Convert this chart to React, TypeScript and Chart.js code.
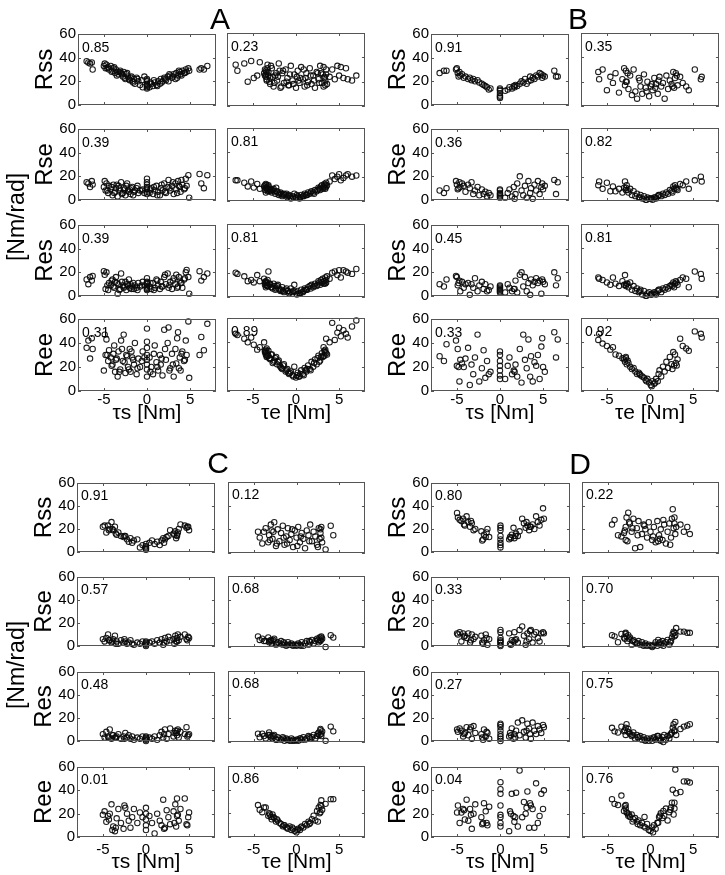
import React, { useEffect, useRef } from "react";
import { Chart, registerables } from "chart.js";
Chart.register(...registerables);

const FONT = '"Liberation Sans", Arial, Helvetica, sans-serif';

// ---------- labels ----------
const panelNames = ["A", "B", "C", "D"];
const rowNames = ["Rss", "Rse", "Res", "Ree"];
const xTitles = ["τs [Nm]", "τe [Nm]"];
const unitLabel = "[Nm/rad]";
const xTickValues = [-5, 0, 5];
const yTickValues = [0, 20, 40, 60];
const xMin = -8, xMax = 8, yMin = 0, yMax = 60;

// ---------- correlation values ----------
const A_corrS = [0.85, 0.39, 0.39, 0.31];
const A_corrE = [0.23, 0.81, 0.81, 0.89];
const B_corrS = [0.91, 0.36, 0.45, 0.33];
const B_corrE = [0.35, 0.82, 0.81, 0.92];
const C_corrS = [0.91, 0.57, 0.48, 0.01];
const C_corrE = [0.12, 0.68, 0.68, 0.86];
const D_corrS = [0.80, 0.33, 0.27, 0.04];
const D_corrE = [0.22, 0.70, 0.75, 0.76];

// ---------- panel A ----------
const A_tauS = [-7.0,-6.8,-6.6,-6.4,-6.3,-5.0,-4.9,-4.8,-4.7,-4.5,-4.4,-4.2,-4.0,-3.9,-3.7,-3.6,-3.4,-3.3,-3.1,-3.0,-2.8,-2.7,-2.5,-2.4,-2.2,-2.0,-1.9,-1.7,-1.5,-1.4,-1.2,-1.0,-0.8,-0.5,-0.3,0,0,0,0,0,0,0,0,0.3,0.5,0.7,0.9,1.1,1.3,1.5,1.6,1.8,2.0,2.2,2.4,2.5,2.7,2.9,3.1,3.3,3.4,3.6,3.8,3.9,4.1,4.3,4.5,4.6,4.8,4.9,6.1,6.3,6.6,7.0,
  -4.6,-4.1,-3.8,-3.5,-3.2,-2.9,-2.6,-2.3,-2.1,-1.8,-1.6,-1.1,-0.6,0.4,0.8,1.2,1.7,2.1,2.6,3.0,3.5,3.7,4.0,4.4];
const A_Rss_s = [37,36,35,36,30,33,35,31,34,32,30,33,29,31,27,30,28,26,29,27,24,28,22,26,24,21,23,20,22,18,23,20,17,15,24,14,16,18,20,22,15,17,21,15,18,16,19,17,20,18,22,20,23,21,24,20,25,23,26,22,27,25,28,26,29,27,30,28,31,29,30,31,30,33,
  31,28,32,25,28,26,23,27,22,24,19,22,21,19,21,16,19,22,26,24,23,29,25,27];
const A_Rse_s = [15,14,11,16,13,11,16,8,14,6,12,9,4,13,7,10,3,12,8,15,6,10,4,12,8,9,5,11,7,8,10,6,8,9,6,5,7,9,11,13,15,18,10,6,10,5,8,12,7,4,10,8,14,6,11,17,8,12,5,14,9,16,11,7,13,9,18,12,21,2,22,14,10,21,
  8,11,6,13,10,5,9,14,7,10,4,12,8,9,11,4,13,7,10,15,6,12,17,10];
const A_Res_s = [14,10,16,13,17,21,18,6,20,5,11,9,14,8,12,16,2,10,6,19,9,7,12,5,9,7,10,8,6,9,7,11,8,12,9,5,7,8,10,11,12,15,6,8,6,11,7,14,9,6,12,8,16,10,19,7,12,6,15,10,18,8,13,11,7,14,20,22,16,2,21,13,16,19,
  9,13,7,11,5,12,8,10,14,6,11,5,9,11,5,13,8,18,9,13,7,16,11,15];
const A_Ree_s = [36,42,27,44,35,17,47,30,43,25,34,28,22,31,16,26,12,33,18,42,25,47,15,30,20,35,16,28,22,40,14,27,20,33,28,12,18,22,26,30,36,41,52,28,20,14,38,24,17,30,22,13,51,26,40,53,19,31,12,35,23,49,28,17,33,25,42,30,58,11,30,45,34,56,
  30,21,38,27,16,35,24,29,18,33,26,19,25,16,31,20,27,35,17,22,44,19,31,26];
const A_tauE = [-7.0,-6.8,-6.0,-5.6,-5.2,-4.9,-4.5,-4.2,-3.7,-3.6,-3.5,-3.5,-3.4,-3.3,-3.2,-3.0,-2.8,-2.6,-2.4,-2.2,-2.0,-1.8,-1.6,-1.4,-1.2,-1.0,-0.8,-0.6,-0.4,-0.2,0,0.1,0.2,0.4,0.6,0.8,1.0,1.2,1.4,1.6,1.8,2.0,2.2,2.4,2.6,2.8,3.0,3.1,3.2,3.3,3.4,3.5,3.6,3.9,4.2,4.5,4.8,5.0,5.2,5.5,5.8,6.5,7.0,6.0,-3.6,-3.4,-3.1,-2.7,-1.9,-0.9,0.3,1.1,2.9,3.4,
  -3.5,-3.4,-3.3,-3.2,-3.0,-2.9,-2.5,-2.3,-2.1,-1.7,-1.5,-1.1,-0.7,-0.3,0.5,0.9,1.3,1.7,2.1,2.5,2.7,3.2,3.3,3.5];
const A_Rss_e = [34,29,35,20,37,23,25,36,27,30,24,26,22,34,28,18,31,16,25,21,35,15,27,19,30,23,17,33,21,26,15,24,29,19,32,22,16,27,20,31,18,25,15,28,22,33,19,26,16,24,21,30,18,24,30,22,33,25,32,23,31,21,25,22,25,28,20,24,29,17,21,23,27,17,
  29,21,31,25,23,33,19,27,24,16,29,20,26,18,23,30,17,25,21,27,19,32,23,26];
const A_Rse_e = [17,17,15,12,16,11,14,10,12,9,14,7,11,8,13,9,7,10,6,8,5,7,4,6,5,3,5,2,4,6,3,5,4,2,5,4,6,5,7,6,8,7,9,8,11,9,13,10,12,14,11,15,13,16,21,18,20,22,17,19,21,20,21,22,13,10,8,9,6,4,3,5,12,10,
  11,13,9,12,10,8,8,11,7,6,5,6,4,3,3,4,5,7,6,9,10,11,13,12];
const A_Res_e = [20,19,17,13,14,12,18,13,15,10,13,8,12,9,21,10,8,11,6,9,7,5,8,4,6,5,3,7,4,10,4,2,5,3,6,4,7,6,8,9,10,8,11,9,13,10,12,15,11,13,16,12,17,15,20,21,18,22,16,22,21,19,23,20,12,9,11,7,6,5,3,6,14,11,
  12,10,14,9,11,8,9,7,10,6,5,7,4,5,3,5,6,7,9,10,12,13,11,14];
const A_Ree_e = [47,46,43,40,44,38,34,36,40,33,30,34,28,31,29,26,30,24,27,22,25,20,18,22,16,18,14,16,13,20,11,13,15,12,17,14,19,16,21,18,24,20,26,22,29,25,31,28,36,29,32,43,30,40,56,42,48,52,45,50,47,53,58,44,32,29,27,23,21,15,12,17,28,34,
  31,35,29,33,27,30,25,28,24,19,21,17,15,12,14,13,18,17,23,27,24,29,33,31];

// ---------- panel B ----------
const B_tauS = [-7.0,-6.5,-6.2,-5.1,-5.0,-4.9,-4.7,-4.6,-4.4,-4.2,-4.0,-3.7,-3.5,-3.3,-3.1,-2.9,-2.6,-2.4,-2.1,-1.9,-1.7,-1.5,-1.3,-1.1,0,0,0,0,0,0,0,0.6,0.9,1.1,1.4,1.6,1.8,2.0,2.3,2.5,2.7,2.9,3.1,3.3,3.5,3.6,3.8,4.0,4.2,4.4,4.6,4.8,4.9,5.0,5.2,6.3,6.5,6.7,-4.8,1.7];
const B_Rss_s = [27,29,29,30,31,27,28,25,26,23,24,22,23,21,22,20,21,19,18,17,16,15,13,14,6,8,10,12,13,14,7,12,13,15,14,16,17,16,18,20,19,22,18,20,24,21,23,22,25,24,27,26,23,25,24,29,24,24,24,15];
const B_Rse_s = [8,6,10,16,13,9,15,11,14,12,7,13,10,15,5,8,11,4,9,5,7,3,6,4,2,4,6,8,9,3,5,2,6,9,3,11,5,14,20,8,4,12,2,16,6,10,1,13,8,16,5,11,14,9,12,17,5,15,10,1];
const B_Res_s = [10,8,14,17,16,9,13,4,12,7,10,11,1,10,7,15,4,9,12,6,10,4,5,8,3,5,7,8,9,4,6,3,10,7,4,6,13,3,18,20,8,16,4,11,1,14,9,12,15,11,13,2,14,12,10,20,9,15,11,6];
const B_Ree_s = [29,25,39,42,21,35,8,26,23,20,27,36,5,22,14,28,47,8,19,34,11,25,14,16,10,13,17,21,25,30,33,10,21,28,14,17,22,12,35,7,47,26,19,43,12,29,8,24,21,30,10,37,44,20,16,49,28,43,20,16];
const B_tauE = [-6.0,-5.9,-5.5,-5.0,-4.6,-4.3,-4.0,-3.6,-3.2,-3.0,-2.9,-2.8,-2.7,-2.5,-2.3,-2.1,-1.9,-1.7,-1.5,-1.3,-1.1,-0.9,-0.7,-0.5,-0.3,-0.1,0.1,0.3,0.5,0.7,0.9,1.1,1.3,1.5,1.7,1.9,2.1,2.3,2.5,2.7,2.8,2.9,3.0,3.2,3.5,3.8,4.2,4.5,5.2,5.9,6.0,-2.8,-2.6,-1.2,-0.4,0.2,0.6,1.0,2.6,3.1];
const B_Rss_e = [28,22,30,13,24,19,27,11,22,31,17,29,20,14,25,9,30,12,6,23,16,10,26,15,20,8,16,13,23,18,10,24,16,19,6,25,14,21,18,28,15,23,27,17,24,19,16,13,30,22,24,20,27,21,12,18,15,21,16,25];
const B_Rse_e = [13,16,10,15,8,12,8,10,7,11,16,9,13,7,10,5,8,4,6,3,5,2,4,1,3,2,2,1,3,2,4,5,4,6,5,7,6,9,8,12,10,13,11,9,14,13,16,10,17,20,16,11,9,3,1,2,3,5,7,10];
const B_Res_e = [16,15,14,12,10,16,11,9,13,10,18,9,11,8,12,6,9,5,7,4,6,2,5,1,3,4,2,3,4,2,5,6,4,7,6,8,7,9,10,12,8,11,13,10,14,16,15,8,21,19,15,10,11,5,1,2,3,6,9,12];
const B_Ree_e = [42,47,39,37,34,36,30,29,27,26,24,28,22,23,20,18,19,16,14,15,13,12,11,9,10,7,5,8,6,10,8,17,12,20,16,24,19,28,22,32,21,30,23,26,43,37,35,33,49,47,44,27,25,14,8,4,7,14,18,21];

// ---------- panel C ----------
const C_tauS = [-5.0,-4.8,-4.6,-4.4,-4.2,-4.0,-3.8,-3.6,-3.4,-3.2,-2.9,-2.6,-2.4,-2.2,-2.0,-1.8,-1.6,-1.4,-1.0,-0.7,-0.4,0,0,0,0,0,0.4,0.7,1.0,1.3,1.6,1.8,2.0,2.2,2.4,2.6,2.8,3.2,3.4,3.5,3.6,3.7,3.8,4.0,4.5,4.7,4.9,5.0,-4.3,-3.9,-3.5,-2.5,2.1,3.3,3.6,4.8];
const C_Rss_s = [22,23,17,23,20,26,19,22,15,17,14,13,14,11,9,12,8,10,11,4,6,2,3,4,5,7,8,10,7,9,6,10,12,11,13,14,19,16,18,12,15,17,20,24,23,21,22,19,19,20,16,14,8,15,14,22];
const C_Rse_s = [6,4,7,10,5,3,6,9,4,2,5,3,4,2,3,5,2,1,3,2,4,0,1,3,2,4,3,4,2,5,3,6,1,7,4,8,5,6,9,4,7,10,5,8,10,6,8,7,5,4,2,6,3,2,4,5];
const C_Res_s = [6,3,8,4,10,2,5,3,4,6,2,4,7,3,5,2,4,1,3,2,4,0,1,2,3,4,3,2,4,1,5,8,3,10,2,6,11,4,9,7,5,10,3,8,6,12,5,6,3,5,3,2,6,7,9,4];
const C_Ree_s = [19,22,13,18,20,28,9,5,16,24,12,7,25,20,14,8,17,24,12,21,17,6,10,15,20,25,18,12,3,20,14,10,32,8,23,17,11,22,28,9,33,19,14,24,33,11,17,21,15,6,8,27,7,12,18,10];
const C_tauE = [-4.5,-4.3,-4.0,-3.6,-3.3,-3.2,-3.0,-2.9,-2.8,-2.6,-2.4,-2.2,-2.0,-1.8,-1.6,-1.4,-1.2,-1.0,-0.8,-0.6,-0.4,-0.2,0,0.2,0.4,0.6,0.8,1.0,1.2,1.4,1.6,1.8,2.0,2.2,2.4,2.6,2.7,2.8,2.9,3.0,3.4,4.0,4.3,-3.1,-2.7,-2.3,-1.5,-0.5,0.1,0.5,1.5,2.5,2.8,2.9,-3.8,-1.1];
const C_Rss_e = [18,13,8,21,9,15,24,19,12,26,6,20,10,17,23,7,14,21,11,16,5,19,13,22,9,17,12,4,19,15,24,10,18,14,7,21,12,17,22,9,3,23,15,11,18,8,13,20,6,14,10,5,20,13,18,8];
const C_Rse_e = [9,6,7,5,8,4,6,3,5,7,2,4,3,5,2,3,1,4,2,3,1,2,1,3,2,4,1,3,5,2,4,6,3,5,7,4,8,6,9,7,0,10,8,5,6,3,4,2,2,1,5,6,5,8,5,2];
const C_Res_e = [7,4,7,3,6,8,4,5,3,6,2,4,3,2,4,1,3,2,1,3,2,1,2,1,3,2,4,2,3,5,3,4,6,3,5,8,6,10,7,9,1,13,9,6,5,2,3,1,2,3,4,7,11,5,5,2];
const C_Ree_e = [27,23,21,25,18,20,17,15,19,16,13,14,12,11,9,10,8,7,9,6,7,5,4,7,6,9,8,11,10,13,12,15,18,14,22,25,20,27,31,23,28,32,32,19,17,15,10,8,6,8,11,13,21,26,25,8];

// ---------- panel D ----------
const D_tauS = [-5.0,-4.9,-4.7,-4.5,-4.3,-4.1,-3.9,-3.7,-3.5,-3.3,-3.1,-2.9,-2.2,-2.0,-1.9,-1.7,-1.5,-1.3,0,0,0,0,0,0,0,0,1.0,1.1,1.3,1.5,1.6,1.8,2.0,2.2,2.5,2.7,2.9,3.1,3.3,3.5,3.7,3.9,4.1,4.3,4.5,4.7,4.9,5.0,-4.2,-3.4,-2.1,-1.6,1.2,1.7,3.0,3.4];
const D_Rss_s = [34,30,28,27,29,23,31,26,22,25,19,20,18,11,15,13,20,13,4,6,8,11,14,19,21,23,11,13,15,21,12,16,14,18,29,25,21,23,19,22,24,20,31,26,23,28,38,29,24,27,10,17,12,14,26,22];
const D_Rse_s = [11,10,12,4,11,9,7,11,3,10,6,8,9,2,5,10,1,6,0,1,3,4,5,7,12,14,11,2,5,4,12,6,3,14,17,9,1,11,6,14,3,10,12,7,4,11,12,11,8,5,3,7,1,5,4,13];
const D_Res_s = [10,8,11,9,4,7,12,5,10,2,13,7,6,1,10,4,7,2,0,2,4,6,9,12,14,15,4,7,11,2,6,9,16,5,18,8,3,15,11,2,16,9,6,13,10,7,14,12,6,12,3,8,5,3,9,6];
const D_Ree_s = [21,27,12,21,24,15,32,14,24,7,20,28,17,12,29,22,10,26,9,12,17,19,27,37,41,47,5,22,37,18,13,38,9,57,17,30,20,39,8,27,24,8,46,12,18,37,24,40,23,19,11,12,20,17,25,29];
const D_tauE = [-4.5,-4.2,-3.8,-3.4,-3.0,-2.9,-2.8,-2.7,-2.6,-2.4,-2.2,-2.0,-1.8,-1.6,-1.4,-1.2,-1.0,-0.8,-0.6,-0.4,-0.2,0,0.2,0.4,0.6,0.8,1.0,1.2,1.4,1.6,1.8,2.0,2.2,2.4,2.5,2.6,2.7,2.8,2.9,3.0,3.5,3.9,4.3,4.6,-3.1,-2.5,-2.1,-1.5,-0.7,0.3,0.9,1.5,2.3,2.8,-2.9,1.1];
const D_Rss_e = [24,28,15,14,19,22,30,10,34,25,18,29,4,21,27,5,16,24,20,13,26,18,11,22,9,27,15,20,11,24,8,18,25,13,29,37,21,30,16,22,24,18,22,16,17,26,21,15,23,14,10,28,7,25,11,12];
const D_Rse_e = [10,9,4,11,7,12,9,5,10,8,2,6,4,3,5,2,4,1,3,1,2,1,0,2,4,1,3,2,5,3,4,6,2,5,8,11,13,9,10,16,13,13,12,12,8,7,5,3,2,1,6,1,4,12,11,4];
const D_Res_e = [12,9,8,13,10,6,15,9,11,7,5,8,3,6,4,5,2,4,1,3,1,3,1,4,2,5,3,1,4,6,2,5,3,7,8,12,15,9,17,6,11,13,14,15,9,8,6,4,2,3,5,0,6,10,12,2];
const D_Ree_e = [32,28,27,35,26,24,21,20,18,17,19,15,16,13,14,10,12,9,8,11,6,5,8,10,7,12,17,20,16,18,24,14,21,25,29,40,19,24,57,37,38,47,47,46,22,19,13,11,17,4,12,22,23,29,27,18];

// ---------- assembled (built from the arrays above) ----------
const panelData = [
  { tauS: A_tauS, tauE: A_tauE, ys: [A_Rss_s, A_Rse_s, A_Res_s, A_Ree_s], ye: [A_Rss_e, A_Rse_e, A_Res_e, A_Ree_e], rs: A_corrS, re: A_corrE },
  { tauS: B_tauS, tauE: B_tauE, ys: [B_Rss_s, B_Rse_s, B_Res_s, B_Ree_s], ye: [B_Rss_e, B_Rse_e, B_Res_e, B_Ree_e], rs: B_corrS, re: B_corrE },
  { tauS: C_tauS, tauE: C_tauE, ys: [C_Rss_s, C_Rse_s, C_Res_s, C_Ree_s], ye: [C_Rss_e, C_Rse_e, C_Res_e, C_Ree_e], rs: C_corrS, re: C_corrE },
  { tauS: D_tauS, tauE: D_tauE, ys: [D_Rss_s, D_Rse_s, D_Res_s, D_Ree_s], ye: [D_Rss_e, D_Rse_e, D_Res_e, D_Ree_e], rs: D_corrS, re: D_corrE },
];

// ---------- layout (positions only) ----------
const panelLayout = [
  { cols: [78, 226], widths: [139, 140], tops: [33, 128, 224, 318], h: 73, letterX: 220, letterY: 4, tickPad: 0, axisB: 37, corrBase: 18 },
  { cols: [431, 580], widths: [139, 140], tops: [33, 128, 224, 318], h: 73, letterX: 578, letterY: 4, tickPad: 0, axisB: 37, corrBase: 18 },
  { cols: [77, 227], widths: [139, 139], tops: [482, 576, 671, 766], h: 71, letterX: 218, letterY: 448, tickPad: 4, axisB: 40, corrBase: 17 },
  { cols: [431, 581], widths: [140, 139], tops: [482, 576, 671, 766], h: 71, letterX: 580, letterY: 449, tickPad: 4, axisB: 40, corrBase: 17 },
];
const unitLabelPos = [{ x: 16, y: 217 }, { x: 16, y: 665 }];

const framePlugin = {
  id: "frame",
  afterDatasetsDraw(chart: any, _args: any, opts: any) {
    const { ctx, chartArea, scales } = chart;
    const { left, top, right, bottom } = chartArea;
    ctx.save();
    ctx.strokeStyle = "#555";
    ctx.lineWidth = 1;
    ctx.strokeRect(Math.round(left) + 0.5, Math.round(top) + 0.5, Math.round(right - left) - 1, Math.round(bottom - top) - 1);
    const tl = 3;
    ctx.beginPath();
    scales.x.ticks.forEach((t: any) => {
      const px = Math.round(scales.x.getPixelForValue(t.value)) + 0.5;
      ctx.moveTo(px, bottom); ctx.lineTo(px, bottom - tl);
      ctx.moveTo(px, top); ctx.lineTo(px, top + tl);
    });
    scales.y.ticks.forEach((t: any) => {
      const py = Math.round(scales.y.getPixelForValue(t.value)) + 0.5;
      ctx.moveTo(left, py); ctx.lineTo(left + tl, py);
      ctx.moveTo(right, py); ctx.lineTo(right - tl, py);
    });
    ctx.stroke();
    ctx.fillStyle = "#000";
    ctx.font = `14px ${FONT}`;
    ctx.textAlign = "left";
    ctx.textBaseline = "alphabetic";
    ctx.fillText(opts.label, left + 4, top + opts.base);
    ctx.restore();
  },
};

type SubProps = {
  xs: number[]; ys: number[]; corr: number; x: number; y: number; w: number; h: number;
  isLeft: boolean; isBottom: boolean; rowName: string; xTitle: string; tickPad: number; axisB: number; corrBase: number;
};

function SubPlot(p: SubProps) {
  const ref = useRef<HTMLCanvasElement | null>(null);
  const L = p.isLeft ? 50 : 4;
  const R = 4;
  const T = 10;
  const B = p.isBottom ? p.axisB : 10;
  const cw = L + p.w + R;
  const chh = T + p.h + B;
  useEffect(() => {
    const chart = new Chart(ref.current as HTMLCanvasElement, {
      type: "scatter",
      data: {
        datasets: [{
          data: p.xs.map((v, i) => ({ x: v, y: p.ys[i] })),
          pointRadius: 2.7,
          pointBorderWidth: 1.05,
          borderColor: "rgba(10,10,10,0.92)",
          backgroundColor: "rgba(0,0,0,0)",
          pointStyle: "circle",
          clip: false as any,
        } as any],
      },
      options: {
        responsive: false,
        animation: false,
        devicePixelRatio: 1,
        events: [],
        layout: { padding: { left: 0, right: R, top: T, bottom: 0 } },
        plugins: {
          legend: { display: false },
          tooltip: { enabled: false },
          frame: { label: p.corr.toFixed(2), base: p.corrBase },
        } as any,
        scales: {
          x: {
            type: "linear", min: xMin, max: xMax,
            afterBuildTicks: (s: any) => { s.ticks = xTickValues.map((v) => ({ value: v })); },
            afterFit: (s: any) => { s.height = B; },
            grid: { display: false, drawTicks: false },
            border: { display: false },
            ticks: { display: p.isBottom, color: "#000", font: { family: FONT, size: 15, lineHeight: 1.2 }, padding: p.tickPad, maxRotation: 0, autoSkip: false },
            title: { display: p.isBottom, text: p.xTitle, color: "#000", font: { family: FONT, size: 21, lineHeight: 1.2 }, padding: { top: 0, bottom: 2 } },
          },
          y: {
            type: "linear", min: yMin, max: yMax,
            afterBuildTicks: (s: any) => { s.ticks = yTickValues.map((v) => ({ value: v })); },
            afterFit: (s: any) => { s.width = L; },
            grid: { display: false, drawTicks: false },
            border: { display: false },
            ticks: { display: p.isLeft, color: "#000", font: { family: FONT, size: 15, lineHeight: 1.2 }, padding: 2 },
            title: { display: p.isLeft, text: p.rowName, color: "#000", font: { family: FONT, size: 24, lineHeight: 1 }, padding: { top: 5, bottom: 0 } },
          },
        },
      } as any,
      plugins: [framePlugin as any],
    });
    return () => chart.destroy();
  }, []);
  return (
    <canvas
      ref={ref}
      width={cw}
      height={chh}
      style={{ position: "absolute", left: p.x - L, top: p.y - T, width: cw, height: chh }}
    />
  );
}

export default function App() {
  const subs: React.ReactNode[] = [];
  panelData.forEach((pd, pi) => {
    const lay = panelLayout[pi];
    for (let r = 0; r < 4; r++) {
      for (let c = 0; c < 2; c++) {
        subs.push(
          <SubPlot
            key={`${pi}-${r}-${c}`}
            xs={c === 0 ? pd.tauS : pd.tauE}
            ys={c === 0 ? pd.ys[r] : pd.ye[r]}
            corr={c === 0 ? pd.rs[r] : pd.re[r]}
            x={lay.cols[c]}
            y={lay.tops[r]}
            w={lay.widths[c]}
            h={lay.h}
            isLeft={c === 0}
            isBottom={r === 3}
            rowName={rowNames[r]}
            xTitle={xTitles[c]}
            tickPad={lay.tickPad}
            axisB={lay.axisB}
            corrBase={lay.corrBase}
          />
        );
      }
    }
  });
  return (
    <div style={{ position: "absolute", left: 0, top: 0, width: 725, height: 875, background: "#fff", overflow: "hidden", fontFamily: FONT }}>
      {subs}
      {panelNames.map((n, i) => (
        <div key={n} style={{ position: "absolute", left: panelLayout[i].letterX - 30, width: 60, top: panelLayout[i].letterY, textAlign: "center", fontSize: 30, lineHeight: "30px", color: "#000" }}>{n}</div>
      ))}
      {unitLabelPos.map((u, i) => (
        <div key={i} style={{ position: "absolute", left: u.x, top: u.y, transform: "translate(-50%, -50%) rotate(-90deg)", fontSize: 23, lineHeight: "23px", whiteSpace: "nowrap", color: "#000" }}>{unitLabel}</div>
      ))}
    </div>
  );
}
